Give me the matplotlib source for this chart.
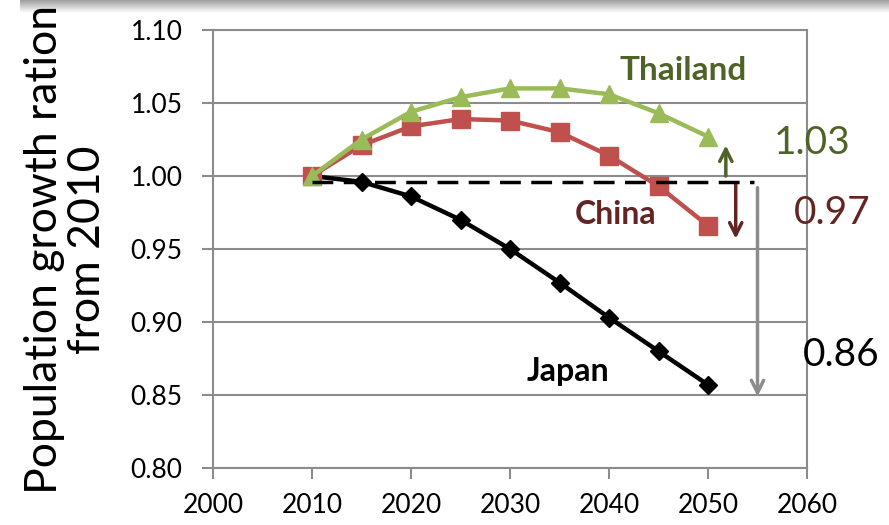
import matplotlib
matplotlib.use("Agg")
import matplotlib.pyplot as plt
import numpy as np

plt.rcParams['font.family'] = ['Lato', 'DejaVu Sans']

years = [2010, 2015, 2020, 2025, 2030, 2035, 2040, 2045, 2050]
thailand = [1.000, 1.025, 1.044, 1.054, 1.060, 1.060, 1.056, 1.043, 1.027]
china = [1.000, 1.021, 1.034, 1.039, 1.038, 1.030, 1.014, 0.993, 0.966]
japan = [1.000, 0.996, 0.986, 0.970, 0.950, 0.927, 0.903, 0.880, 0.857]

xticks = [2000, 2010, 2020, 2030, 2040, 2050, 2060]
yticks = [0.80, 0.85, 0.90, 0.95, 1.00, 1.05, 1.10]

baseline = 0.996
thai_end, china_end, japan_end = 1.021, 0.957, 0.849
labels_end = ["1.03", "0.97", "0.86"]

fig = plt.figure(figsize=(8.89, 5.25), dpi=100)

# top shadow band
sh = fig.add_axes([20/889, 1 - 13/525, 1 - 20/889, 13/525])
grad = np.linspace(0.62, 1.0, 50).reshape(-1, 1)
sh.imshow(grad, aspect='auto', cmap='gray', vmin=0, vmax=1, extent=[0, 1, 0, 1], origin='upper')
sh.axis('off')

ax = fig.add_axes([213/889, 57/525, (807-213)/889, (468-30)/525])
grid_c = '#8c8c8c'
ax.set_xlim(2000, 2060)
ax.set_ylim(0.80, 1.10)
ax.set_xticks(xticks)
ax.set_yticks(yticks)
ax.set_yticklabels([f"{v:.2f}" for v in yticks])
ax.yaxis.grid(True, color=grid_c, lw=1.5)
ax.set_axisbelow(True)
for s in ax.spines.values():
    s.set_color(grid_c)
    s.set_linewidth(1.5)
ax.tick_params(axis='both', colors=grid_c, width=1.5, length=8, labelsize=19,
               labelcolor='black')
ax.tick_params(axis='y', pad=14)
ax.tick_params(axis='x', pad=10)

ax.plot(years, japan, color='black', lw=3.2, marker='D', ms=9, zorder=3)
ax.plot(years, china, color='#C0504D', lw=3.2, marker='s', ms=13, zorder=4)
ax.plot(years, thailand, color='#9BBB59', lw=3.2, marker='^', ms=13, zorder=5)

ax.plot([2010, 2054.6], [baseline, baseline], color='black', lw=2.5,
        ls=(0, (6, 3)), zorder=6, clip_on=False)

ax.annotate('', xy=(2051.8, thai_end), xytext=(2051.8, 1.0),
            arrowprops=dict(arrowstyle='->', color='#4F6228', lw=2.5,
                            mutation_scale=22, shrinkA=0, shrinkB=0))
ax.annotate('', xy=(2052.8, china_end), xytext=(2052.8, baseline - 0.002),
            arrowprops=dict(arrowstyle='->', color='#632523', lw=2.5,
                            mutation_scale=22, shrinkA=0, shrinkB=0))
ax.annotate('', xy=(2055, japan_end), xytext=(2055, baseline - 0.004),
            arrowprops=dict(arrowstyle='->', color='#8c8c8c', lw=2.5,
                            mutation_scale=22, shrinkA=0, shrinkB=0))

ax.text(2047.5, 1.0726, 'Thailand', color='#4F6228', fontsize=24,
        fontweight='bold', ha='center', va='center')
ax.text(2040.7, 0.9733, 'China', color='#632523', fontsize=23,
        fontweight='bold', ha='center', va='center')
ax.text(2035.9, 0.866, 'Japan', color='black', fontsize=23,
        fontweight='bold', ha='center', va='center')

ax.text(2060.5, 1.0226, labels_end[0], color='#4F6228', fontsize=28,
        ha='center', va='center', clip_on=False)
ax.text(2062.5, 0.9746, labels_end[1], color='#632523', fontsize=28,
        ha='center', va='center', clip_on=False)
ax.text(2063.5, 0.8774, labels_end[2], color='black', fontsize=28,
        ha='center', va='center', clip_on=False)

fig.text(66/889, 1 - 250/525, 'Population growth ration\nfrom 2010', rotation=90,
         ha='center', va='center', fontsize=32, linespacing=1.05, multialignment='center')

fig.savefig('out.png', dpi=100)
